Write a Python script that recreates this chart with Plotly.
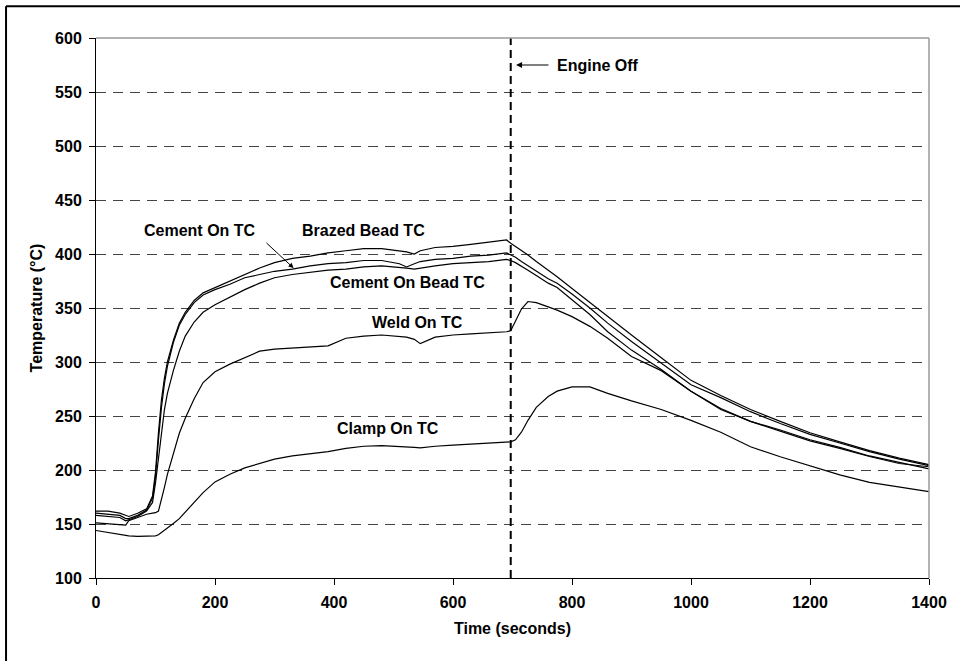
import plotly.graph_objects as go

# ---------------- data ----------------
time_s = [0, 20, 40, 50, 55, 70, 85, 95,
          100, 105, 110, 115, 120, 130, 140, 150, 165, 180,
          200, 225, 250, 275, 300, 330, 360, 390, 420, 450,
          480, 510, 522, 535, 545, 570, 600, 630, 660, 690,
          697, 705, 715, 726, 740, 760, 775, 800, 830, 860,
          900, 950, 1000, 1050, 1100, 1150, 1200, 1250, 1300, 1350,
          1400]

brazed_bead = [162, 162, 160, 158, 157, 160, 164, 176,
               198, 235, 265, 285, 300, 320, 336, 346, 357, 364,
               369, 375, 381, 387, 392, 396, 398, 401, 403, 405,
               405, 403, 402, 400, 403, 406, 407, 409, 411, 413,
               410, 407, 403, 399, 393, 385, 379, 368, 355, 342,
               325, 304, 283, 269, 256, 245, 234.5, 226, 218, 211,
               205]

cement_on = [160, 159, 158, 155, 155, 158, 163, 174,
             194, 228, 258, 280, 296, 318, 334, 344, 355, 362,
             367, 372, 378, 381, 384, 386, 389, 391, 392, 394,
             394, 391, 388, 391, 393, 395, 396, 398, 399, 401,
             399, 397, 393, 389, 384, 377, 373, 363, 350, 336,
             319, 299, 279, 267, 254, 243, 233, 225, 217, 210,
             204]

cement_on_bead = [158, 157, 156, 153, 154, 157, 162, 170,
                  188, 212, 236, 256, 271, 292, 310, 324, 337, 346,
                  353, 360, 367, 373, 378, 381, 383, 385, 386, 388,
                  389, 388, 387, 386, 387, 389, 391, 392, 393, 395,
                  394, 392, 389, 385, 380, 373, 369, 358, 344, 328,
                  311, 293, 273, 257, 245, 237, 228, 221, 213, 207,
                  201]

weld_on = [151, 150, 149.5, 149, 153, 156, 159, 160,
           160.5, 162, 172, 184, 196, 215, 234, 248, 266, 281,
           291, 298, 304, 310, 312, 313, 314, 315, 322, 324,
           325, 324, 323, 321, 317, 323, 325, 326, 327, 328,
           329, 338, 349, 356, 355, 351, 348, 342, 333, 322,
           305, 292, 273, 256, 245, 236, 227, 220, 212.5, 206,
           203]

clamp_on = [144, 142, 140.5, 139.5, 139, 138.5, 138.5, 138.5,
            139, 140, 142, 144, 146.5, 150.5, 155, 161, 170, 179,
            189, 196, 202, 206, 210, 213, 215, 217, 220, 222,
            222.5, 222, 221.5, 221, 220.5, 222, 223, 224, 225, 225.5,
            226, 228, 235, 246, 258, 268, 273, 277, 277, 271,
            264, 256, 246, 235, 221.5, 212.3, 204, 195.5, 188.5, 184,
            180]

series_names = ["Brazed Bead TC", "Cement On TC", "Cement On Bead TC",
                "Weld On TC", "Clamp On TC"]
series_values = [brazed_bead, cement_on, cement_on_bead, weld_on, clamp_on]

engine_off_time = 697

x_ticks = [0, 200, 400, 600, 800, 1000, 1200, 1400]
y_ticks = [100, 150, 200, 250, 300, 350, 400, 450, 500, 550, 600]

# label positions (data units)
label_text = ["Cement On TC", "Brazed Bead TC", "Cement On Bead TC",
              "Weld On TC", "Clamp On TC"]
label_x = [175, 449, 523, 540, 490]
label_y = [422, 422, 374, 336.5, 238]

# ---------------- figure ----------------
FONT = "Liberation Sans, Arial, sans-serif"
fig = go.Figure()

for name, vals in zip(series_names, series_values):
    fig.add_trace(go.Scatter(x=time_s, y=vals, mode="lines", name=name,
                             line=dict(color="black", width=1.2),
                             showlegend=False))

# engine-off vertical line
fig.add_shape(type="line", xref="x", yref="paper",
              x0=engine_off_time, x1=engine_off_time, y0=0, y1=1,
              line=dict(color="black", width=2, dash="8px,5px"), layer="above")

# gray top / right plot borders
fig.add_shape(type="line", xref="paper", yref="paper", x0=0, x1=1, y0=1, y1=1,
              line=dict(color="#9a9a9a", width=1.5), layer="above")
fig.add_shape(type="line", xref="paper", yref="paper", x0=1, x1=1, y0=0, y1=1,
              line=dict(color="#9a9a9a", width=1.5), layer="above")

# outer frame (left and top edges visible)
fig.add_shape(type="line", xref="paper", yref="paper", x0=-0.108, x1=1.2,
              y0=1.059, y1=1.059, line=dict(color="black", width=2))
fig.add_shape(type="line", xref="paper", yref="paper", x0=-0.108, x1=-0.108,
              y0=-0.3, y1=1.059, line=dict(color="black", width=2))

annot_font = dict(family=FONT, size=16, color="black", weight="bold")

for txt, lx, ly in zip(label_text, label_x, label_y):
    fig.add_annotation(x=lx, y=ly, xref="x", yref="y", text=txt,
                       showarrow=False, font=annot_font)

# arrow to Cement On TC curve
fig.add_annotation(x=332, y=387, ax=284, ay=411.5, xref="x", yref="y",
                   axref="x", ayref="y", text="", showarrow=True,
                   arrowhead=2, arrowsize=1, arrowwidth=1, arrowcolor="black")

# Engine Off label + arrow
fig.add_annotation(x=771, y=575, xref="x", yref="y", text="Engine Off",
                   showarrow=False, xanchor="left", font=annot_font)
fig.add_annotation(x=706, y=575, ax=763, ay=575, xref="x", yref="y",
                   axref="x", ayref="y", text="", showarrow=True,
                   arrowhead=2, arrowsize=1, arrowwidth=1.2, arrowcolor="black")

fig.update_layout(
    width=960, height=661,
    margin=dict(l=96, r=31, t=38, b=83),
    paper_bgcolor="white", plot_bgcolor="white",
    font=dict(family=FONT, size=16, color="black"),
    xaxis=dict(range=[0, 1400], tickvals=x_ticks, ticks="outside", ticklen=6,
               tickcolor="black", showline=True, linecolor="black", linewidth=1,
               showgrid=False, zeroline=False, ticklabelstandoff=4,
               tickfont=dict(family=FONT, size=16, color="black", weight="bold"),
               title=dict(text="Time (seconds)", standoff=12,
                          font=dict(family=FONT, size=16, color="black", weight="bold"))),
    yaxis=dict(range=[100, 600], tickvals=y_ticks, ticks="outside", ticklen=6,
               tickcolor="black", showline=True, linecolor="black", linewidth=1,
               showgrid=True, gridcolor="#444444", gridwidth=1, griddash="10px,7px",
               zeroline=False, ticklabelstandoff=4,
               tickfont=dict(family=FONT, size=16, color="black", weight="bold"),
               title=dict(text="Temperature (°C)", standoff=8,
                          font=dict(family=FONT, size=16, color="black", weight="bold"))),
)

fig.write_html("out.html")
